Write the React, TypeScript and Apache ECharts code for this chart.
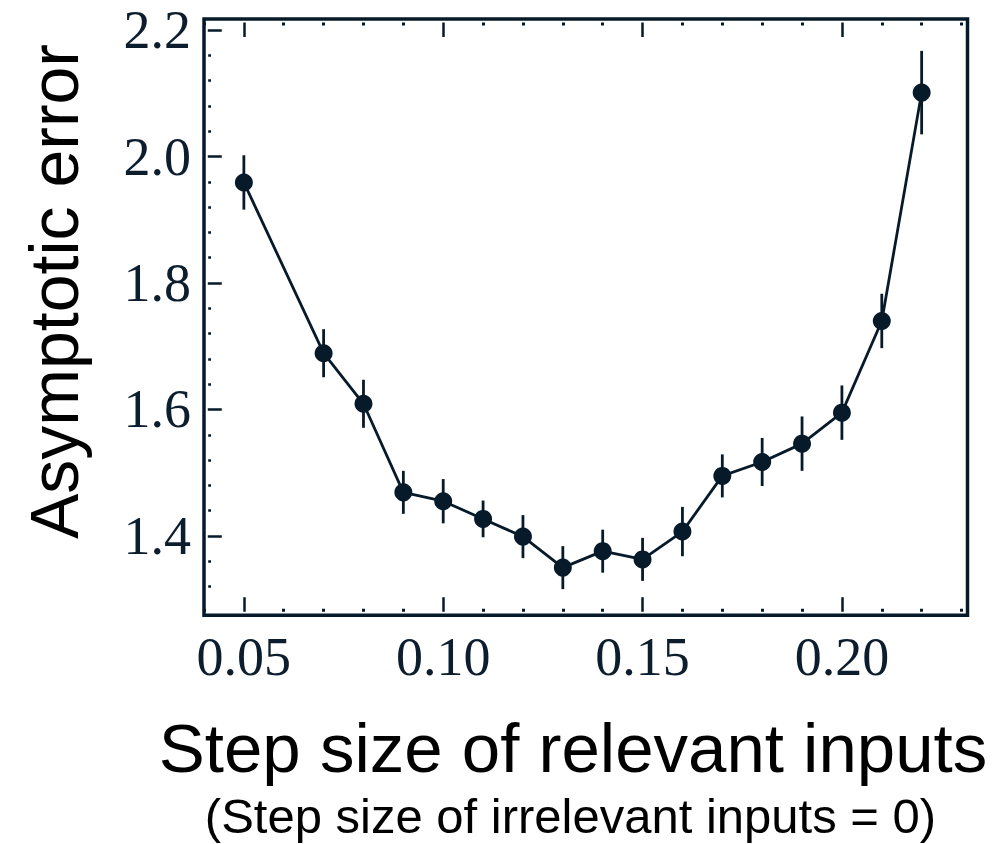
import React, { useEffect, useRef } from "react";
import * as echarts from "echarts";

const stepSizes = [0.05, 0.07, 0.08, 0.09, 0.10, 0.11, 0.12, 0.13, 0.14, 0.15, 0.16, 0.17, 0.18, 0.19, 0.20, 0.21, 0.22];
const asymptoticError = [1.959, 1.689, 1.609, 1.469, 1.455, 1.427, 1.399, 1.350, 1.376, 1.363, 1.407, 1.495, 1.517, 1.546, 1.595, 1.740, 2.101];
const errorHalfWidth = [0.043, 0.038, 0.038, 0.034, 0.035, 0.029, 0.034, 0.034, 0.034, 0.034, 0.039, 0.034, 0.038, 0.043, 0.043, 0.043, 0.066];

const xMajorTicks = [0.05, 0.10, 0.15, 0.20];
const xMinorTicks = [0.04, 0.06, 0.07, 0.08, 0.09, 0.11, 0.12, 0.13, 0.14, 0.16, 0.17, 0.18, 0.19, 0.21, 0.22, 0.23];
const yMajorTicks = [1.4, 1.6, 1.8, 2.0, 2.2];
const yMinorTicks = [1.32, 1.36, 1.44, 1.48, 1.52, 1.56, 1.64, 1.68, 1.72, 1.76, 1.84, 1.88, 1.92, 1.96, 2.04, 2.08, 2.12, 2.16];

const X_MIN = 0.04;
const X_MAX = 0.2315;
const Y_MIN = 1.2746;
const Y_MAX = 2.2174;

const NAVY = "#071a2a";
const LABEL_COLOR = "#0c1d2d";

export default function App() {
  const ref = useRef<HTMLDivElement>(null);

  useEffect(() => {
    if (!ref.current) return;
    const chart = echarts.init(ref.current, undefined, { renderer: "svg" });

    const tickLabelStyle = {
      fontFamily: "Liberation Serif",
      fontSize: 54,
      color: LABEL_COLOR,
    };

    const xAxisBase = {
      type: "value" as const,
      min: X_MIN,
      max: X_MAX,
      splitLine: { show: false },
      axisLine: { show: false, onZero: false },
    };
    const yAxisBase = {
      type: "value" as const,
      min: Y_MIN,
      max: Y_MAX,
      splitLine: { show: false },
      axisLine: { show: false, onZero: false },
    };

    const majorTickX = {
      show: true,
      inside: true,
      length: 18,
      customValues: xMajorTicks,
      lineStyle: { color: NAVY, width: 2.5, type: [0, 3.5, 14.5, 100] },
    };
    const minorTickX = {
      show: true,
      inside: true,
      length: 8,
      customValues: xMinorTicks,
      lineStyle: { color: NAVY, width: 3, type: [0, 3.5, 3, 100] },
    };

    const option: any = {
      animation: false,
      grid: {
        left: 204,
        top: 19,
        width: 763.5,
        height: 596.3,
        show: true,
        borderColor: NAVY,
        borderWidth: 3.5,
        backgroundColor: "transparent",
        containLabel: false,
      },
      xAxis: [
        {
          ...xAxisBase,
          position: "bottom",
          axisTick: majorTickX,
          axisLabel: {
            show: true,
            customValues: xMajorTicks,
            margin: 15,
            formatter: (v: number) => v.toFixed(2),
            ...tickLabelStyle,
          },
        },
        {
          ...xAxisBase,
          position: "bottom",
          axisTick: minorTickX,
          axisLabel: { show: false },
        },
        {
          ...xAxisBase,
          position: "top",
          axisTick: majorTickX,
          axisLabel: { show: false },
        },
        {
          ...xAxisBase,
          position: "top",
          axisTick: minorTickX,
          axisLabel: { show: false },
        },
      ],
      yAxis: [
        {
          ...yAxisBase,
          position: "left",
          axisTick: {
            show: true,
            inside: true,
            length: 18,
            customValues: yMajorTicks,
            lineStyle: { color: NAVY, width: 2.5, type: [0, 3.8, 14, 100] },
          },
          axisLabel: {
            show: true,
            customValues: yMajorTicks,
            margin: 13,
            formatter: (v: number) => v.toFixed(1),
            ...tickLabelStyle,
          },
        },
        {
          ...yAxisBase,
          position: "left",
          axisTick: {
            show: true,
            inside: true,
            length: 8,
            customValues: yMinorTicks,
            lineStyle: { color: NAVY, width: 2.7, type: [0, 4.2, 2.8, 100] },
          },
          axisLabel: { show: false },
        },
      ],
      series: [
        {
          type: "custom",
          xAxisIndex: 0,
          yAxisIndex: 0,
          z: 2,
          renderItem: (params: any, api: any) => {
            const x = api.value(0);
            const lo = api.value(1);
            const hi = api.value(2);
            const p1 = api.coord([x, lo]);
            const p2 = api.coord([x, hi]);
            return {
              type: "line",
              shape: { x1: p1[0], y1: p1[1], x2: p2[0], y2: p2[1] },
              style: { stroke: NAVY, lineWidth: 2.8 },
            };
          },
          encode: { x: 0, y: [1, 2] },
          data: stepSizes.map((x, i) => [
            x,
            asymptoticError[i] - errorHalfWidth[i],
            asymptoticError[i] + errorHalfWidth[i],
          ]),
        },
        {
          type: "line",
          xAxisIndex: 0,
          yAxisIndex: 0,
          z: 3,
          symbol: "circle",
          symbolSize: 18,
          lineStyle: { color: NAVY, width: 2.8 },
          itemStyle: { color: NAVY },
          data: stepSizes.map((x, i) => [x, asymptoticError[i]]),
        },
      ],
      graphic: [
        {
          type: "text",
          x: 54,
          y: 291.5,
          rotation: Math.PI / 2,
          style: {
            text: "Asymptotic error",
            fontFamily: "Liberation Sans",
            fontSize: 68,
            fill: "#000",
            align: "center",
            verticalAlign: "middle",
          },
        },
        {
          type: "text",
          x: 573,
          y: 748,
          style: {
            text: "Step size of relevant inputs",
            fontFamily: "Liberation Sans",
            fontSize: 69,
            fill: "#000",
            align: "center",
            verticalAlign: "middle",
          },
        },
        {
          type: "text",
          x: 570.5,
          y: 816,
          style: {
            text: "(Step size of irrelevant inputs = 0)",
            fontFamily: "Liberation Sans",
            fontSize: 49,
            fill: "#000",
            align: "center",
            verticalAlign: "middle",
          },
        },
      ],
    };

    chart.setOption(option);
    return () => chart.dispose();
  }, []);

  return (
    <div
      ref={ref}
      style={{ position: "fixed", left: 0, top: 0, width: 1006, height: 844 }}
    />
  );
}
